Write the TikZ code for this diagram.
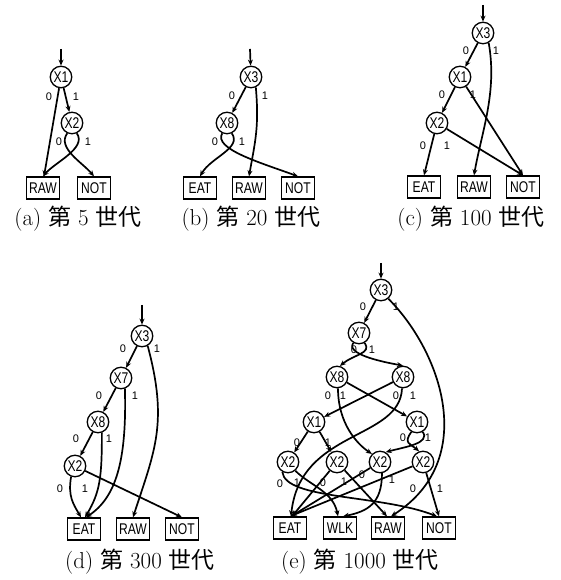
\documentclass[tikz,border=0pt]{standalone}
\usepackage{fontspec}
\usetikzlibrary{arrows.meta}
\newfontfamily\cjk{Noto Sans CJK JP}
\newfontfamily\nodefam[FakeStretch=0.78]{Liberation Sans}
\newfontfamily\labfam{Liberation Sans}
\begin{document}
\begin{tikzpicture}[x=1pt,y=1pt,
  vnode/.style={circle,draw,line width=1.3pt,minimum size=21.5pt,inner sep=0pt,
    font={\nodefam\fontsize{15.5pt}{15.5pt}\selectfont}},
  leaf/.style={rectangle,draw,line width=1.3pt,minimum width=33pt,minimum height=22pt,inner sep=0pt,
    font={\nodefam\fontsize{15.5pt}{15.5pt}\selectfont}},
  edge/.style={line width=1.7pt,-{Stealth[length=6pt,width=5pt]}},
  lab/.style={font={\labfam\fontsize{11pt}{11pt}\selectfont},inner sep=0pt},
  capt/.style={font={\fontsize{23pt}{26pt}\selectfont},inner sep=0pt}]
\useasboundingbox (0,0) rectangle (560,580);

% ---------- (a) ----------
\node[vnode] (a1) at (61,503) {X1};
\node[vnode] (a2) at (72,457) {X2};
\node[leaf] (aRAW) at (43,392) {RAW};
\node[leaf] (aNOT) at (94,392) {NOT};
\coordinate (ain) at (61,531);
\draw[edge] (ain) -- (a1);
\draw[edge] (a1) -- ([xshift=1pt]aRAW.north);
\draw[edge] (a1) -- (a2);
\draw[edge] (a2.-115) .. controls +(-125:18) and +(130:18) .. (aNOT.north);
\draw[edge] (a2.-65) .. controls +(-55:18) and +(50:18) .. (aRAW.north);
\node[lab] at (49,483) {0};
\node[lab] at (76,483) {1};
\node[lab] at (59,438) {0};
\node[lab] at (88,438) {1};
\node[capt] (acap) at (78,361) {(a) {\cjk 第} 5 {\cjk 世代}};

% ---------- (b) ----------
\node[vnode] (b3) at (251,503) {X3};
\node[vnode] (b8) at (227,457) {X8};
\node[leaf] (bEAT) at (200,392) {EAT};
\node[leaf] (bRAW) at (249,392) {RAW};
\node[leaf] (bNOT) at (298,392) {NOT};
\coordinate (bin) at (250,531);
\draw[edge] (bin) -- (b3);
\draw[edge] (b3) -- (b8);
\draw[edge] (b3.-65) .. controls +(-85:40) and +(80:35) .. (bRAW.north);
\draw[edge] (b8.-115) .. controls +(-120:18) and +(160:40) .. (bNOT.north);
\draw[edge] (b8.-65) .. controls +(-55:18) and +(60:22) .. (bEAT.north);
\node[lab] at (232,484) {0};
\node[lab] at (265,484) {1};
\node[lab] at (215,438) {0};
\node[lab] at (242,438) {1};
\node[capt] (bcap) at (251,361) {(b) {\cjk 第} 20 {\cjk 世代}};

% ---------- (c) ----------
\node[vnode] (c3) at (483,547) {X3};
\node[vnode] (c1) at (460,503) {X1};
\node[vnode] (c2) at (437,457) {X2};
\node[leaf] (cEAT) at (424,393) {EAT};
\node[leaf] (cRAW) at (474,393) {RAW};
\node[leaf] (cNOT) at (523,393) {NOT};
\coordinate (cin) at (483,575);
\draw[edge] (cin) -- (c3);
\draw[edge] (c3) -- (c1);
\draw[edge] (c3.-60) .. controls +(-80:50) and +(80:45) .. (cRAW.north);
\draw[edge] (c1) -- (c2);
\draw[edge] (c1) -- (cNOT.north);
\draw[edge] (c2) -- (cEAT.north);
\draw[edge] (c2) -- (cNOT.north);
\node[lab] at (466,529) {0};
\node[lab] at (496,529) {1};
\node[lab] at (442,485) {0};
\node[lab] at (473,485) {1};
\node[lab] at (423,434) {0};
\node[lab] at (447,434) {1};
\node[capt] (ccap) at (471,361) {(c) {\cjk 第} 100 {\cjk 世代}};

% ---------- (d) ----------
\node[vnode] (d3) at (142,244) {X3};
\node[vnode] (d7) at (121,202) {X7};
\node[vnode] (d8) at (98,158) {X8};
\node[vnode] (d2) at (75,114) {X2};
\node[leaf] (dEAT) at (84,51) {EAT};
\node[leaf] (dRAW) at (133,51) {RAW};
\node[leaf] (dNOT) at (182,51) {NOT};
\coordinate (din) at (142,275);
\draw[edge] (din) -- (d3);
\draw[edge] (d3) -- (d7);
\draw[edge] (d7) -- (d8);
\draw[edge] (d8) -- (d2);
\draw[edge] (d3.-60) .. controls +(-75:80) and +(72:70) .. (dRAW.north);
\draw[edge] (d7.-70) .. controls +(2,-72) and +(30,20) .. ([xshift=2pt]dEAT.north);
\draw[edge] (d8.-70) .. controls +(0,-45) and +(15,25) .. ([xshift=1pt]dEAT.north);
\draw[edge] (d2.-110) .. controls +(-100:20) and +(120:15) .. ([xshift=-3pt]dEAT.north);
\draw[edge] (d2) -- (dNOT.north);
\node[lab] at (123,231) {0};
\node[lab] at (157,231) {1};
\node[lab] at (99,184) {0};
\node[lab] at (135,184) {1};
\node[lab] at (76,141) {0};
\node[lab] at (109,141) {1};
\node[lab] at (60,91) {0};
\node[lab] at (85,91) {1};
\node[capt] (dcap) at (140,18) {(d) {\cjk 第} 300 {\cjk 世代}};

% ---------- (e) ----------
\node[vnode] (e3) at (381,290) {X3};
\node[vnode] (e7) at (359,247) {X7};
\node[vnode] (e8l) at (337,203) {X8};
\node[vnode] (e8r) at (403,203) {X8};
\node[vnode] (e1l) at (314,158) {X1};
\node[vnode] (e1r) at (417,158) {X1};
\node[vnode] (e2a) at (288,118) {X2};
\node[vnode] (e2b) at (337,118) {X2};
\node[vnode] (e2c) at (380,118) {X2};
\node[vnode] (e2d) at (423,118) {X2};
\node[leaf] (eEAT) at (290,52) {EAT};
\node[leaf] (eWLK) at (340,52) {WLK};
\node[leaf] (eRAW) at (388,52) {RAW};
\node[leaf] (eNOT) at (439,52) {NOT};
\coordinate (ein) at (381,317);
\draw[edge] (ein) -- (e3);
\draw[edge] (e3) -- (e7);
\draw[edge] (e3.-50) .. controls +(52,-52) and +(89,57) .. ([xshift=3pt]eRAW.north);
\draw[edge] (e7.-120) .. controls +(-125:13) and +(170:25) .. (e8r.north);
\draw[edge] (e7.-60) .. controls +(-55:13) and +(40:18) .. (e8l.75);
\draw[edge] (e8l.-85) .. controls +(0,-35) and +(-15,10) .. (e2c.135);
\draw[edge] (e8l) -- (e1r);
\draw[edge] (e8r) -- (e1l);
\draw[edge] (e8r.-95) .. controls +(-2,-52) and +(9,87) .. ([xshift=1pt]eEAT.north);
\draw[edge] (e1l) -- (e2a);
\draw[edge] (e1l) -- (e2b);
\draw[edge] (e1r.-120) .. controls +(-125:14) and +(140:12) .. (e2d.110);
\draw[edge] (e1r.-60) .. controls +(-55:14) and +(15:20) .. (e2c.60);
\draw[edge] (e2a.-120) .. controls +(3,-28) and +(-57,22) .. ([xshift=-2pt]eNOT.north);
\draw[edge] (e2a.-50) .. controls +(15,-15) and +(-5,25) .. ([xshift=-2pt]eWLK.north);
\draw[edge] (e2b) -- ([xshift=2pt]eEAT.north);
\draw[edge] (e2b) -- ([xshift=-1pt]eRAW.north);
\draw[edge] (e2c) -- ([xshift=1pt]eEAT.north);
\draw[edge] (e2c.-80) .. controls +(0,-30) and +(25,5) .. ([xshift=3pt]eWLK.north);
\draw[edge] (e2d) -- (eEAT.north);
\draw[edge] (e2d) -- (eNOT.north);
\node[lab] at (363,273) {0};
\node[lab] at (396,273) {1};
\node[lab] at (354,230) {0};
\node[lab] at (372,230) {1};
\node[lab] at (328,184) {0};
\node[lab] at (343,184) {1};
\node[lab] at (396,184) {0};
\node[lab] at (413,184) {1};
\node[lab] at (297,137) {0};
\node[lab] at (328,137) {1};
\node[lab] at (403,142) {0};
\node[lab] at (428,142) {1};
\node[lab] at (280,96) {0};
\node[lab] at (297,97) {1};
\node[lab] at (323,97) {0};
\node[lab] at (344,98) {1};
\node[lab] at (362,105) {0};
\node[lab] at (392,100) {1};
\node[lab] at (413,91) {0};
\node[lab] at (440,91) {1};
\node[capt] (ecap) at (360,18) {(e) {\cjk 第} 1000 {\cjk 世代}};
\end{tikzpicture}
\end{document}
